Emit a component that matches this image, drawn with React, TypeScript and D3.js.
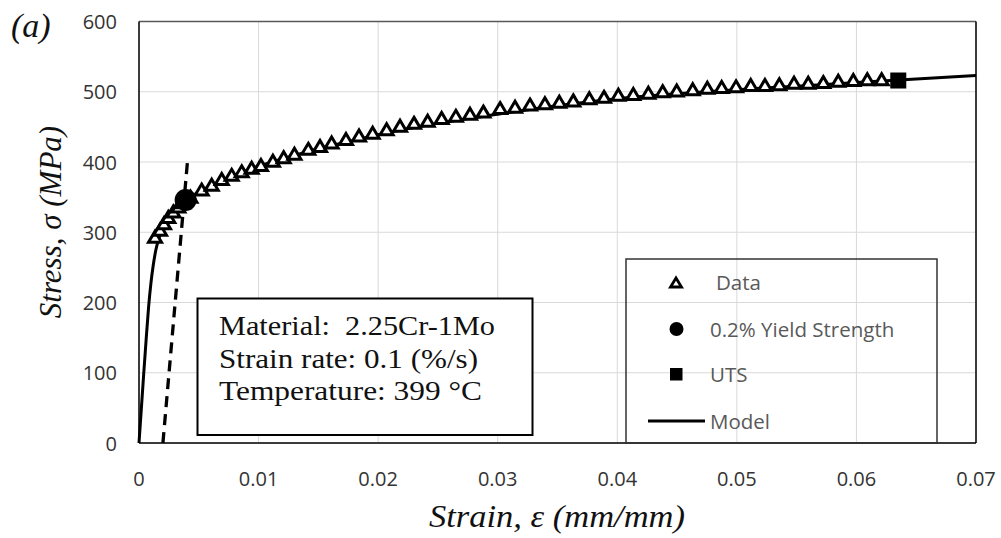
import React from "react";
import * as d3 from "d3";

const xTicks = [0, 0.01, 0.02, 0.03, 0.04, 0.05, 0.06, 0.07];
const xTickLabels = ["0", "0.01", "0.02", "0.03", "0.04", "0.05", "0.06", "0.07"];
const yTicks = [0, 100, 200, 300, 400, 500, 600];

const dataStrain = [
  0.00134, 0.00176, 0.00209, 0.00245, 0.00287, 0.00329, 0.0037, 0.0043,
  0.00524, 0.00608, 0.00692, 0.00775, 0.00859, 0.00942, 0.0102, 0.0112, 0.0121, 0.013,
  0.01416, 0.01514, 0.01611, 0.01731, 0.0184, 0.01954, 0.02071, 0.02183, 0.023, 0.02414,
  0.02531, 0.0265, 0.02768, 0.0288, 0.0302, 0.03145, 0.0327, 0.03395, 0.03515, 0.03632,
  0.03766, 0.03889, 0.04009, 0.04134, 0.0426, 0.0438, 0.04497, 0.04631, 0.04753, 0.04873,
  0.04993, 0.05116, 0.05235, 0.05355, 0.05478, 0.05597, 0.05723, 0.05848, 0.05974, 0.06091, 0.06211,
];
const dataStress = [
  293, 303, 312, 321, 329, 336, 342, 350,
  360, 367, 375, 381, 386, 391, 395, 401, 406, 411,
  418, 422, 427, 432, 437, 441, 446, 451, 455, 458,
  462, 465, 468, 471, 476, 478, 481, 483, 485, 487,
  490, 492, 495, 496, 498, 500, 501, 503, 505, 506,
  507, 509, 509, 510, 512, 512, 513, 515, 516, 517, 517,
];

const modelStrain = [
  0, 0.0002, 0.0004, 0.0006, 0.0008, 0.001, 0.0012, 0.0014, 0.0017, 0.002, 0.0025, 0.003,
  0.0039, 0.005, 0.006, 0.008, 0.01, 0.0125, 0.015, 0.0175, 0.02, 0.025, 0.03, 0.035,
  0.04, 0.045, 0.05, 0.055, 0.06, 0.065, 0.07,
];
const modelStress = [
  0, 50, 100, 148, 193, 228, 254, 274, 293, 307, 321, 332,
  346, 357, 366, 381, 394, 407, 419, 429, 439, 455, 468, 480,
  490, 497, 503, 508, 513, 518, 523,
];

const offsetStrain = [0.002, 0.00405];
const offsetStress = [0, 400];

const yieldPoint = { strain: 0.0039, stress: 346 };
const utsPoint = { strain: 0.0635, stress: 516 };

const infoLines = ["Material:\u00a0 2.25Cr-1Mo", "Strain rate: 0.1 (%/s)", "Temperature: 399 °C"];
const infoWidths = [276, 259, 263];
const legendLabels = ["Data", "0.2% Yield Strength", "UTS", "Model"];

export default function App() {
  const x = d3.scaleLinear().domain([0, 0.07]).range([139, 976]);
  const y = d3.scaleLinear().domain([0, 600]).range([443, 21.5]);

  const modelPts: [number, number][] = modelStrain.map((s, i) => [s, modelStress[i]]);
  const line = d3
    .line<[number, number]>()
    .x((d) => x(d[0]))
    .y((d) => y(d[1]))
    .curve(d3.curveMonotoneX);
  const offsetLine = d3
    .line<[number, number]>()
    .x((d) => x(d[0]))
    .y((d) => y(d[1]));

  const tri = "M0,-6 L6.5,5 L-6.5,5 Z";
  const serif = "'Liberation Serif', 'Times New Roman', serif";
  const sans = "'Open Sans', sans-serif";

  return (
    <svg
      width={1001}
      height={538}
      style={{ position: "absolute", left: 0, top: 0, background: "#fff" }}
    >
      <rect x={0} y={0} width={1001} height={538} fill="#fff" />
      {/* grid */}
      {xTicks.map((t) => (
        <line key={"gx" + t} x1={x(t)} x2={x(t)} y1={y(0)} y2={y(600)} stroke="#d9d9d9" strokeWidth={1} />
      ))}
      {yTicks.map((t) => (
        <line key={"gy" + t} x1={x(0)} x2={x(0.07)} y1={y(t)} y2={y(t)} stroke="#d9d9d9" strokeWidth={1} />
      ))}
      {/* frame */}
      <line x1={x(0)} x2={x(0.07)} y1={y(600)} y2={y(600)} stroke="#595959" strokeWidth={1.5} />
      <line x1={x(0.07)} x2={x(0.07)} y1={y(600)} y2={y(0)} stroke="#000" strokeWidth={1.5} />
      <line x1={x(0)} x2={x(0)} y1={y(600)} y2={y(0)} stroke="#000" strokeWidth={1.5} />
      <line x1={x(0)} x2={x(0.07)} y1={y(0)} y2={y(0)} stroke="#000" strokeWidth={1.5} />

      {/* model */}
      <path d={line(modelPts) || ""} fill="none" stroke="#000" strokeWidth={3} />
      {/* offset line */}
      <path
        d={offsetLine(offsetStrain.map((s, i) => [s, offsetStress[i]] as [number, number])) || ""}
        fill="none"
        stroke="#000"
        strokeWidth={3.3}
        strokeDasharray="11,7"
      />
      {/* data */}
      {dataStrain.map((s, i) => (
        <path
          key={"d" + i}
          d={tri}
          transform={`translate(${x(s)},${y(dataStress[i])})`}
          fill="#fff"
          stroke="#000"
          strokeWidth={3}
          strokeLinejoin="miter"
        />
      ))}
      <circle cx={x(yieldPoint.strain)} cy={y(yieldPoint.stress)} r={11} fill="#000" />
      <rect x={x(utsPoint.strain) - 8} y={y(utsPoint.stress) - 8} width={16} height={16} fill="#000" />

      {/* info box */}
      <rect x={197.5} y={298.5} width={335} height={136.5} fill="#fff" stroke="#000" strokeWidth={2} />
      {infoLines.map((t, i) => (
        <text
          key={"il" + i}
          x={219}
          y={335 + i * 32.5}
          fontFamily={serif}
          fontSize={27}
          fill="#111"
          textLength={infoWidths[i]}
          lengthAdjust="spacingAndGlyphs"
        >
          {t}
        </text>
      ))}

      {/* legend */}
      <rect x={626} y={259} width={311} height={184} fill="none" stroke="#333" strokeWidth={1.5} />
      <path d="M0,-5 L5.5,4 L-5.5,4 Z" transform="translate(676,283)" fill="#fff" stroke="#000" strokeWidth={2.8} />
      <circle cx={676.5} cy={329} r={7} fill="#000" />
      <rect x={670} y={368} width={12.5} height={12.5} fill="#000" />
      <line x1={648} x2={705} y1={421} y2={421} stroke="#000" strokeWidth={3} />
      {legendLabels.map((t, i) => (
        <text
          key={"lg" + i}
          x={i === 0 ? 716 : 710}
          y={[282, 329, 374, 421][i]}
          dominantBaseline="central"
          fontFamily={sans}
          fontSize={20.5}
          fill="#595959"
        >
          {t}
        </text>
      ))}

      {/* tick labels */}
      {yTicks.map((t) => (
        <text
          key={"yl" + t}
          x={117}
          y={y(t)}
          textAnchor="end"
          dominantBaseline="central"
          fontFamily={sans}
          fontSize={20}
          fill="#333"
        >
          {t}
        </text>
      ))}
      {xTicks.map((t, i) => (
        <text
          key={"xl" + t}
          x={x(t)}
          y={478}
          textAnchor="middle"
          dominantBaseline="central"
          fontFamily={sans}
          fontSize={20}
          fill="#333"
        >
          {xTickLabels[i]}
        </text>
      ))}

      {/* axis titles */}
      <text
        x={557}
        y={527}
        textAnchor="middle"
        fontFamily={serif}
        fontStyle="italic"
        fontSize={31}
        fill="#111"
        textLength={256}
        lengthAdjust="spacingAndGlyphs"
      >
        Strain, ε (mm/mm)
      </text>
      <text
        transform="translate(61,222) rotate(-90)"
        textAnchor="middle"
        fontFamily={serif}
        fontStyle="italic"
        fontSize={31}
        fill="#111"
      >
        Stress, σ (MPa)
      </text>
      <text x={11} y={37} fontFamily={serif} fontStyle="italic" fontSize={34} fill="#111">
        (a)
      </text>
    </svg>
  );
}
